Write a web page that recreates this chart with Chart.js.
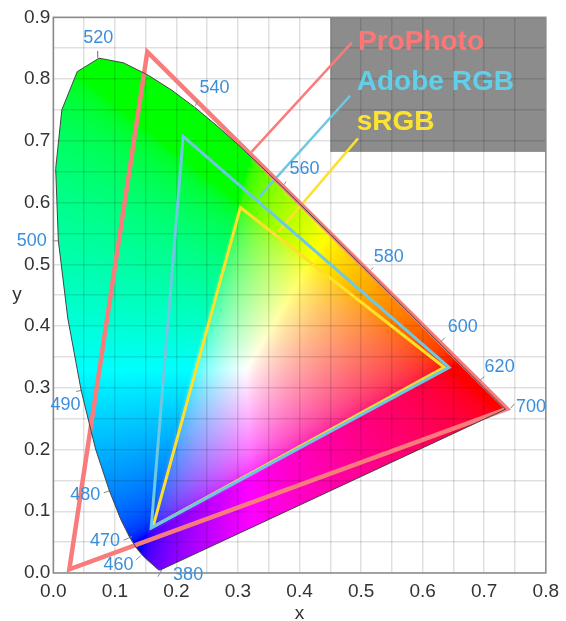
<!DOCTYPE html>
<html>
<head>
<meta charset="utf-8">
<style>html,body{margin:0;padding:0;background:#fff}canvas{display:block}</style>
<script src="https://cdn.jsdelivr.net/npm/chart.js@4"></script>
</head>
<body>
<canvas id="c" width="566" height="621"></canvas>
<script>
// CIE 1931 spectral locus, 380-650 nm every 5 nm, then 660 and 700 nm
const locusX = [.1741,.1740,.1738,.1736,.1733,.1730,.1726,.1721,.1714,.1703,.1689,.1669,.1644,.1611,.1566,.1510,.1440,.1355,.1241,.1096,.0913,.0687,.0454,.0235,.0082,.0039,.0139,.0389,.0743,.1142,.1547,.1929,.2296,.2658,.3016,.3373,.3731,.4087,.4441,.4788,.5125,.5448,.5752,.6029,.6270,.6482,.6658,.6801,.6915,.7006,.7079,.7140,.7190,.7230,.7260,.7300,.7347];
const locusY = [.0050,.0050,.0049,.0049,.0048,.0048,.0048,.0048,.0051,.0058,.0069,.0086,.0109,.0138,.0177,.0227,.0297,.0399,.0578,.0868,.1327,.2007,.2950,.4127,.5384,.6548,.7502,.8120,.8338,.8262,.8059,.7816,.7543,.7243,.6923,.6589,.6245,.5896,.5547,.5202,.4866,.4544,.4242,.3965,.3725,.3514,.3340,.3197,.3083,.2993,.2920,.2859,.2809,.2770,.2740,.2700,.2653];

const proPhotoX = [.737,.1527,.026];
const proPhotoY = [.266,.844,.006];
const adobeX = [.643,.211,.159];
const adobeY = [.333,.707,.073];
const srgbX = [.635,.304,.162];
const srgbY = [.333,.592,.075];

const gamutNames = ['ProPhoto','Adobe RGB','sRGB'];
const gamutNameX = [.495,.493,.493];
const gamutNameY = [.859,.795,.730];
const calloutX = [[.322,.485],[.335,.482],[.366,.495]];
const calloutY = [[.682,.859],[.610,.773],[.553,.704]];
const gamutColors = ['#f97c7c','#6ec8e2','#fde02c'];
const nameColors = ['#ff7676','#62cfe8','#fde331'];

const wavelengths = ['520','540','560','580','600','620','700','380','460','470','480','490','500'];
const wlLabelX = [.073,.262,.408,.545,.665,.725,.776,.219,.106,.084,.052,.020,-.035];
const wlLabelY = [.867,.786,.654,.512,.398,.334,.269,-.003,.013,.051,.126,.272,.538];
const leaderX = [[.072,.072],[.234,.231],[.378,.375],[.520,.516],[.636,.629],[.700,.693],[.749,.743],[.176,.170],[.142,.134],[.128,.114],[.091,.082],[.047,.037],[.009,-.001]];
const leaderY = [[.845,.835],[.764,.757],[.634,.629],[.495,.491],[.381,.374],[.318,.312],[.274,.267],[.005,-.006],[.028,.021],[.059,.053],[.133,.130],[.296,.294],[.538,.538]];

const panelX = [.45,.8];
const panelY = [.682,.9];
const xTitle = 'x';
const yTitle = 'y';

const pts = (xs,ys) => xs.map((x,i)=>({x,y:ys[i]}));
const closed = (xs,ys) => { const p = pts(xs,ys); return [...p,p[0],p[1]]; };
const lineDs = (data,color,width,clip) => ({data,borderColor:color,borderWidth:width,pointRadius:0,showLine:true,fill:false,tension:0,borderJoinStyle:'miter',borderCapStyle:'butt',clip:clip});

const gamma = v => v<=0 ? 0 : (v<=.0031308 ? 12.92*v : 1.055*Math.pow(v,1/2.4)-.055);

const background = {
  id:'background',
  beforeDraw(chart){
    const {ctx,chartArea:a,scales:{x:sx,y:sy}} = chart;
    ctx.save();
    ctx.fillStyle='#fff';
    ctx.fillRect(0,0,chart.width,chart.height);
    // chromaticity colours
    const off=document.createElement('canvas');
    off.width=chart.width; off.height=chart.height;
    const oc=off.getContext('2d');
    const img=oc.createImageData(off.width,off.height);
    for(let py=Math.floor(a.top);py<a.bottom;py++){
      const vy=sy.getValueForPixel(py+.5);
      for(let px=Math.floor(a.left);px<a.right;px++){
        const vx=sx.getValueForPixel(px+.5);
        const vz=1-vx-vy;
        let r= 3.2406*vx-1.5372*vy-.4986*vz;
        let g=-.9689*vx+1.8758*vy+.0415*vz;
        let b= .0557*vx-.2040*vy+1.0570*vz;
        r=Math.max(r,0);g=Math.max(g,0);b=Math.max(b,0);
        const m=Math.max(r,g,b)||1;
        const k=(px+py*off.width)*4;
        img.data[k]=255*gamma(r/m);img.data[k+1]=255*gamma(g/m);img.data[k+2]=255*gamma(b/m);img.data[k+3]=255;
      }
    }
    oc.putImageData(img,0,0);
    ctx.beginPath();
    locusX.forEach((x,i)=>{const X=sx.getPixelForValue(x),Y=sy.getPixelForValue(locusY[i]); i?ctx.lineTo(X,Y):ctx.moveTo(X,Y);});
    ctx.closePath();
    ctx.clip();
    ctx.drawImage(off,0,0);
    ctx.restore();
    // dark panel behind the gamut names
    ctx.save();
    ctx.fillStyle='#8c8c8c';
    const L=sx.getPixelForValue(panelX[0]),R=sx.getPixelForValue(panelX[1]),T=sy.getPixelForValue(panelY[1]),B=sy.getPixelForValue(panelY[0]);
    ctx.fillRect(L,T,R-L,B-T);
    ctx.restore();
  }
};

const annotations = {
  id:'annotations',
  afterDraw(chart){
    const {ctx,chartArea:a,scales:{x:sx,y:sy}} = chart;
    ctx.save();
    ctx.strokeStyle='#8a8a8a';
    ctx.lineWidth=1.5;
    ctx.strokeRect(a.left,a.top,a.right-a.left,a.bottom-a.top);
    ctx.textBaseline='middle';
    ctx.textAlign='center';
    ctx.font='18px "Liberation Sans"';
    ctx.fillStyle='#3a8edc';
    wavelengths.forEach((t,i)=>ctx.fillText(t,sx.getPixelForValue(wlLabelX[i]),sy.getPixelForValue(wlLabelY[i])));
    ctx.textAlign='left';
    ctx.font='bold 28px "Liberation Sans"';
    gamutNames.forEach((t,i)=>{ctx.fillStyle=nameColors[i];ctx.fillText(t,sx.getPixelForValue(gamutNameX[i]),sy.getPixelForValue(gamutNameY[i]));});
    ctx.textAlign='center';
    ctx.font='19px "Liberation Sans"';
    ctx.fillStyle='#333';
    ctx.fillText(xTitle,(a.left+a.right)/2,a.bottom+41);
    ctx.fillText(yTitle,17,(a.top+a.bottom)/2);
    ctx.restore();
  }
};

const tickFont={family:'"Liberation Sans"',size:19};
const gridOpts={color:'rgba(0,0,0,.12)',lineWidth:1.5,drawTicks:false};

new Chart(document.getElementById('c'),{
  type:'scatter',
  data:{datasets:[
    lineDs(pts(locusX,locusY).concat({x:locusX[0],y:locusY[0]}),'#444',1,false),
    ...leaderX.map((lx,i)=>lineDs(pts(lx,leaderY[i]),'#8a8a8a',1,false)),
    lineDs(closed(proPhotoX,proPhotoY),gamutColors[0],4.5,false),
    lineDs(closed(adobeX,adobeY),gamutColors[1],3,false),
    lineDs(closed(srgbX,srgbY),gamutColors[2],3,false),
    ...calloutX.map((cx,i)=>lineDs(pts(cx,calloutY[i]),gamutColors[i],2.5,false))
  ]},
  options:{
    responsive:false,
    animation:false,
    events:[],
    layout:{padding:{top:17.3,right:17.3,left:0,bottom:0}},
    plugins:{legend:{display:false},tooltip:{enabled:false}},
    scales:{
      x:{type:'linear',min:0,max:.8,
        afterFit(s){s.height=48;},
        grid:gridOpts,border:{display:false},
        ticks:{stepSize:.05,autoSkip:false,maxRotation:0,padding:7,color:'#333',font:tickFont,
          callback:v=>Math.round(v*100)%10===0?v.toFixed(1):''}},
      y:{type:'linear',min:0,max:.9,
        afterFit(s){s.width=53.3;},
        grid:gridOpts,border:{display:false},
        ticks:{stepSize:.05,autoSkip:false,padding:3,color:'#333',font:tickFont,
          callback:v=>Math.round(v*100)%10===0?v.toFixed(1):''}}
    }
  },
  plugins:[background,annotations]
});
</script>
</body>
</html>
